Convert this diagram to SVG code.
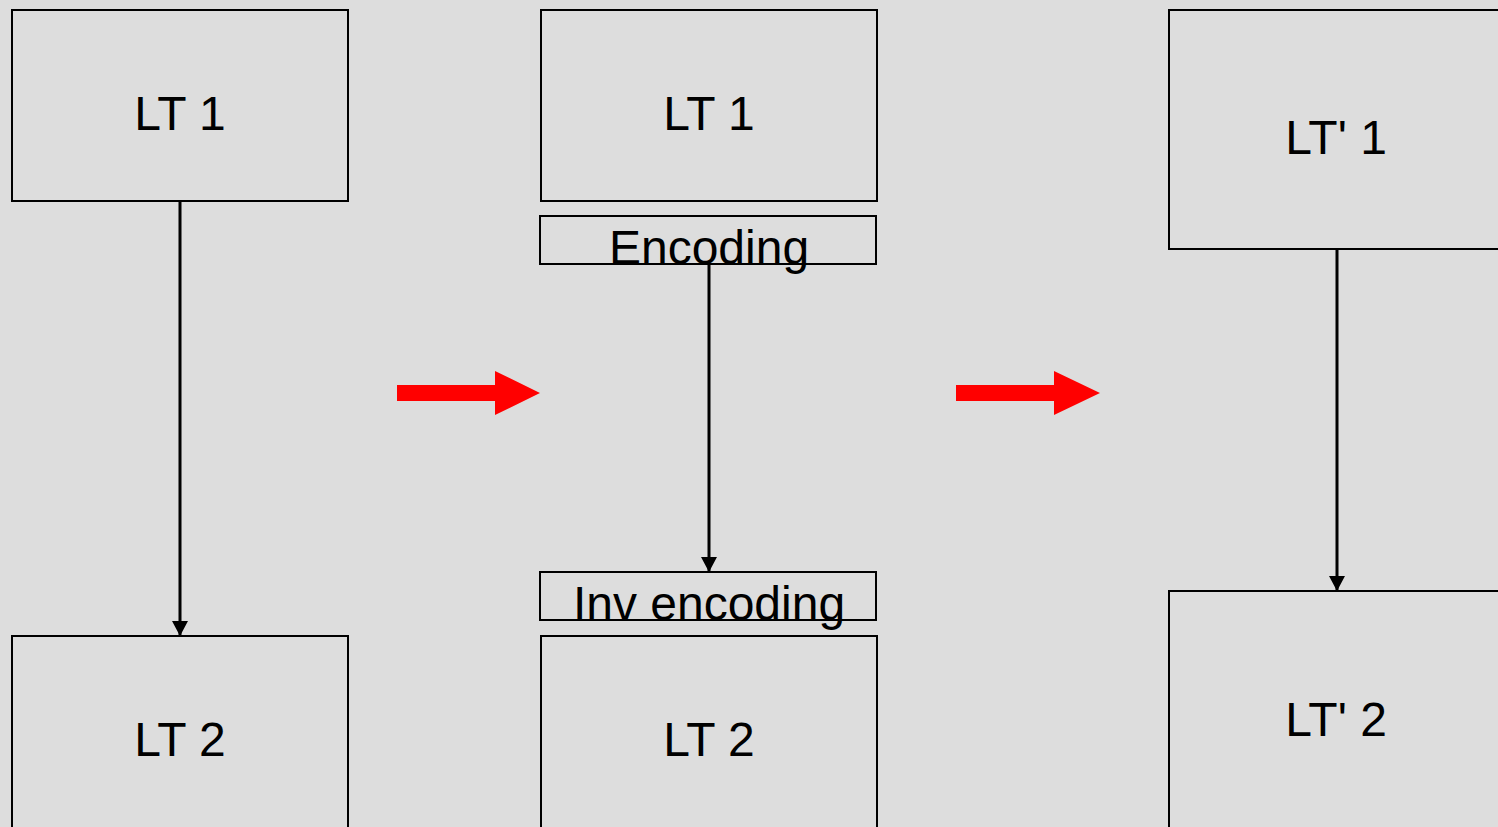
<svg xmlns="http://www.w3.org/2000/svg" width="1498" height="827" viewBox="0 0 1498 827">
<style>
.box{fill:none;stroke:#000;stroke-width:2}
.t{font-family:"Liberation Sans",Arial,sans-serif;font-size:48px;fill:#000;text-anchor:middle}
.c{stroke:#000;stroke-width:3;fill:none}
.red{fill:#ff0000}
</style>
<defs>
<marker id="ah" markerUnits="userSpaceOnUse" markerWidth="18" markerHeight="18" refX="15" refY="8" orient="auto">
<path d="M0,0 L15,8 L0,16 Z" fill="#000"/>
</marker>
</defs>
<rect width="1498" height="827" fill="#dddddd"/>
<g id="left-lt1"><rect class="box" x="12" y="10" width="336" height="191"/><text class="t" x="180" y="130">LT 1</text></g>
<g id="left-lt2"><rect class="box" x="12" y="636" width="336" height="200"/><text class="t" x="180" y="756">LT 2</text></g>
<g id="mid-lt1"><rect class="box" x="541" y="10" width="336" height="191"/><text class="t" x="709" y="130">LT 1</text></g>
<g id="mid-enc"><rect class="box" x="540" y="216" width="336" height="48"/><text class="t" x="709" y="264">Encoding</text></g>
<g id="mid-inv"><rect class="box" x="540" y="572" width="336" height="48"/><text class="t" x="709" y="620">Inv encoding</text></g>
<g id="mid-lt2"><rect class="box" x="541" y="636" width="336" height="200"/><text class="t" x="709" y="756">LT 2</text></g>
<g id="right-lt1"><rect class="box" x="1169" y="10" width="340" height="239"/><text class="t" x="1336" y="154">LT' 1</text></g>
<g id="right-lt2"><rect class="box" x="1169" y="591" width="340" height="250"/><text class="t" x="1336" y="736">LT' 2</text></g>
<g id="connectors">
<line class="c" x1="180" y1="201" x2="180" y2="636" marker-end="url(#ah)"/>
<line class="c" x1="709" y1="264" x2="709" y2="572" marker-end="url(#ah)"/>
<line class="c" x1="1337" y1="249" x2="1337" y2="591" marker-end="url(#ah)"/>
</g>
<g id="red-arrows">
<polygon class="red" points="397,385 495,385 495,371 540,393 495,415 495,401 397,401"/>
<polygon class="red" points="956,385 1054,385 1054,371 1100,393 1054,415 1054,401 956,401"/>
</g>
</svg>
